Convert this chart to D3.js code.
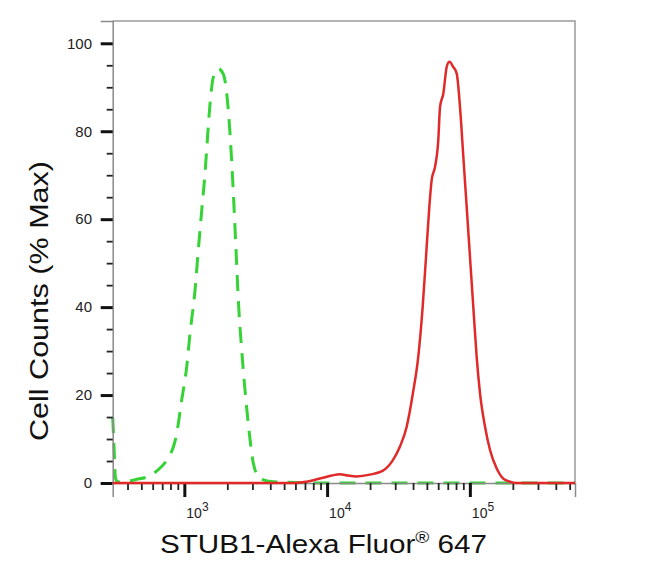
<!DOCTYPE html>
<html>
<head>
<meta charset="utf-8">
<script src="https://cdn.jsdelivr.net/npm/d3@7"></script>
<style>
  html, body { margin: 0; padding: 0; background: #fff; }
  svg { display: block; }
  text { font-family: "Liberation Sans", Arial, sans-serif; }
</style>
</head>
<body>
<svg id="chart" width="650" height="573"></svg>
<script>
// ---- data ----
const greenX = [315, 322, 330, 345, 384, 460, 560, 676, 753, 885, 959, 1039, 1096, 1189, 1253, 1324, 1396, 1449, 1514, 1597, 1730, 1875, 1981, 2089, 2204, 2302, 2389, 2523, 2663, 2853, 3043, 3389, 4180, 10000, 100000, 545000];
const greenY = [15, 8, 1, 0.2, 0.3, 0.8, 1.5, 3.4, 5.2, 11.3, 18.9, 26.4, 34, 43.9, 53, 62, 70.4, 78, 86.3, 92.3, 94.2, 93, 88.6, 79.5, 66, 53, 41.6, 30.2, 21, 11.3, 4.5, 1, 0.3, 0, 0, 0];

const redX = [315, 6000, 7190, 9360, 10800, 12300, 14000, 16100, 19950, 24600, 28900, 32400, 36100, 39900, 43500, 46700, 49300, 52000, 54000, 57000, 60100, 61800, 65200, 68800, 71800, 76600, 80900, 85300, 90000, 95000, 100200, 105700, 111600, 117800, 127700, 138400, 154200, 171400, 191000, 210000, 545000];
const redY = [0, 0, 0.3, 1.2, 1.7, 2.0, 1.7, 1.5, 1.9, 2.8, 5.2, 8.3, 12.8, 20.4, 28.7, 40, 51.4, 62.8, 68.9, 71.9, 78, 85.5, 88.6, 94.6, 95.8, 94.6, 93.1, 85.5, 74.2, 62.8, 51.4, 40, 28.7, 20.4, 12.8, 7.5, 3.3, 1, 0.3, 0, 0];

const yMajor = [0, 20, 40, 60, 80, 100];
const yMinor = [5, 10, 15, 25, 30, 35, 45, 50, 55, 65, 70, 75, 85, 90, 95];
const xMajor = [1e3, 1e4, 1e5];
const xMajorExp = ["3", "4", "5"];
const xMinor = [400, 500, 600, 700, 800, 900, 2000, 3000, 4000, 5000, 6000, 7000, 8000, 9000,
                20000, 30000, 40000, 50000, 60000, 70000, 80000, 90000, 200000, 300000, 400000, 500000];
const xDomain = [315, 545000];
const yDomain = [0, 105.07];

const xTitle = "STUB1-Alexa Fluor";
const xTitleSup = "®";
const xTitleEnd = " 647";
const yTitle = "Cell Counts (% Max)";

// ---- layout ----
const L = 112.7, T = 21, R = 575, B = 483;
const svg = d3.select("#chart");

const x = d3.scaleLog().domain(xDomain).range([L, R]);
const y = d3.scaleLinear().domain(yDomain).range([B, T]);

// frame (top, right)
svg.append("path")
  .attr("d", `M${L},${T}H${R}V${B}`)
  .attr("fill", "none").attr("stroke", "#9a9a9a").attr("stroke-width", 1.5);

// curves
const line = d3.line().x(d => x(d[0])).y(d => y(d[1])).curve(d3.curveMonotoneX);
const greenData = greenX.map((v, i) => [v, greenY[i]]);
const redData = redX.map((v, i) => [v, redY[i]]);

svg.append("path").datum(greenData).attr("d", line)
  .attr("fill", "none").attr("stroke", "#36d336").attr("stroke-width", 3)
  .attr("stroke-dasharray", "16,10");

// y axis
const yAx = svg.append("g").attr("transform", `translate(${L},0)`)
  .call(d3.axisLeft(y).tickValues(yMajor).tickSize(12).tickPadding(8.7).tickFormat(d3.format("d")));
yAx.select(".domain").attr("stroke", "#8a8a8a").attr("stroke-width", 1.5);
yAx.selectAll(".tick line").attr("stroke", "#111").attr("stroke-width", 3);
yAx.selectAll(".tick text").attr("font-size", 15).attr("fill", "#222")
  .attr("font-family", "'Liberation Sans', Arial, sans-serif");

const yAxMin = svg.append("g").attr("transform", `translate(${L},0)`)
  .call(d3.axisLeft(y).tickValues(yMinor).tickSize(6).tickFormat(""));
yAxMin.select(".domain").remove();
yAxMin.selectAll(".tick line").attr("stroke", "#222").attr("stroke-width", 1.8);

// x axis
const xAx = svg.append("g").attr("transform", `translate(0,${B})`)
  .call(d3.axisBottom(x).tickValues(xMajor).tickSize(14).tickFormat(""));
xAx.select(".domain").attr("stroke", "#8a8a8a").attr("stroke-width", 1.5);
xAx.selectAll(".tick line").attr("stroke", "#111").attr("stroke-width", 3);

const xAxMin = svg.append("g").attr("transform", `translate(0,${B})`)
  .call(d3.axisBottom(x).tickValues(xMinor).tickSize(7).tickFormat(""));
xAxMin.select(".domain").remove();
xAxMin.selectAll(".tick line").attr("stroke", "#222").attr("stroke-width", 1.8);

// red curve on top
svg.append("path").datum(redData).attr("d", line)
  .attr("fill", "none").attr("stroke", "#e02a2a").attr("stroke-width", 2.5);

// x tick labels 10^n
xMajor.forEach((v, i) => {
  const t = svg.append("text").attr("x", x(v) + 2).attr("y", 518)
    .attr("font-size", 14).attr("fill", "#222");
  t.append("tspan").text("10");
  t.append("tspan").attr("font-size", 12).attr("dy", -7).text(xMajorExp[i]);
});

// x title
const xt = svg.append("text").attr("x", 160).attr("y", 553)
  .attr("font-size", 25).attr("fill", "#111")
  .attr("textLength", 327).attr("lengthAdjust", "spacingAndGlyphs");
xt.append("tspan").text(xTitle);
xt.append("tspan").attr("font-size", 16).attr("dy", -10).text(xTitleSup);
xt.append("tspan").attr("dy", 10).text(xTitleEnd);

// y title
svg.append("text")
  .attr("transform", "translate(48,301) rotate(-90)")
  .attr("text-anchor", "middle")
  .attr("font-size", 25).attr("fill", "#111")
  .attr("textLength", 280).attr("lengthAdjust", "spacingAndGlyphs")
  .text(yTitle);
</script>
</body>
</html>
